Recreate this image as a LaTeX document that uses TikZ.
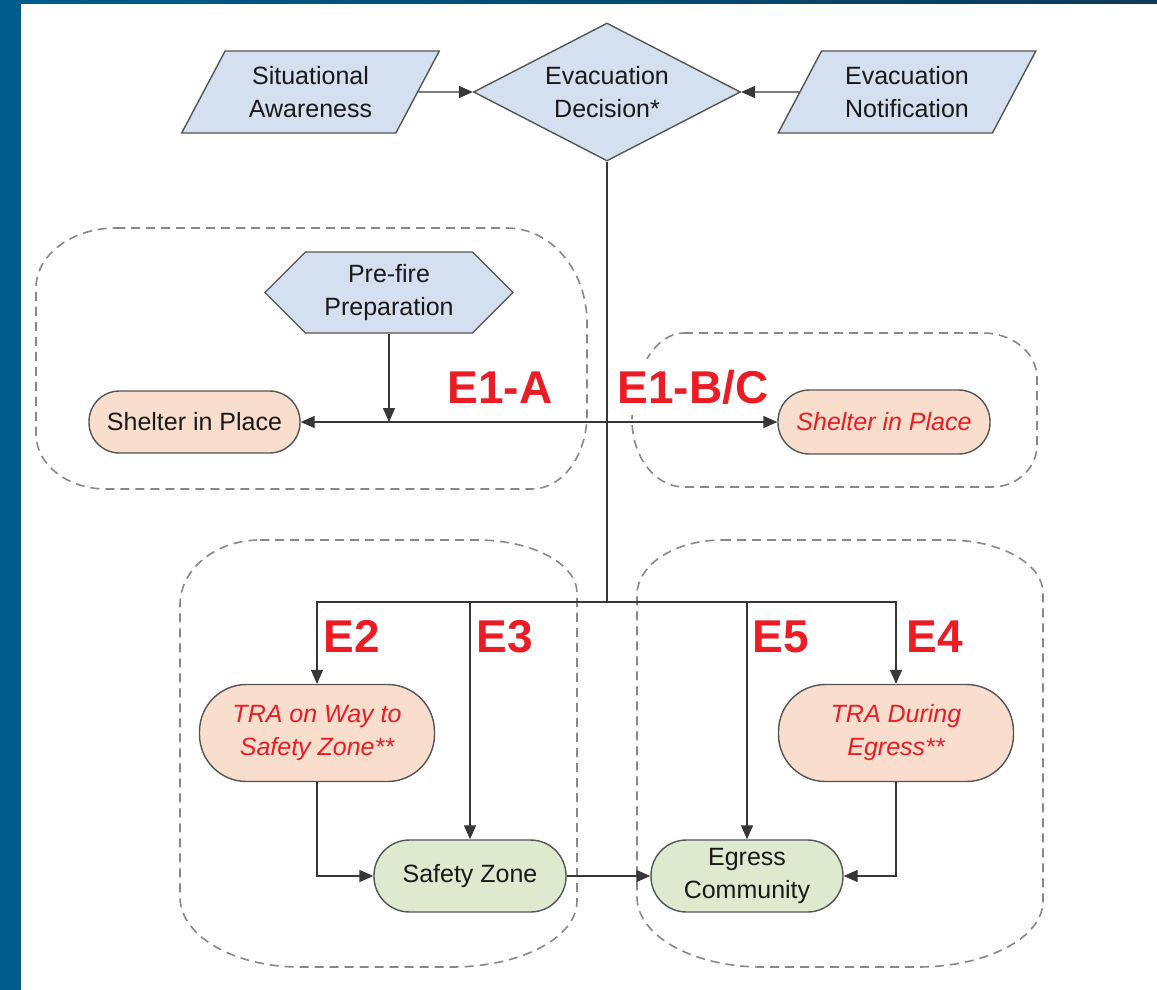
\documentclass[tikz,border=0pt]{standalone}
\usepackage{fontspec}
\setmainfont{Liberation Sans}
\usetikzlibrary{arrows.meta,shapes.geometric,shapes.symbols}

\definecolor{panelblue}{RGB}{0,92,140}
\definecolor{navy}{RGB}{12,58,92}
\definecolor{boxblue}{RGB}{212,223,239}
\definecolor{peach}{RGB}{249,222,205}
\definecolor{mint}{RGB}{222,234,207}
\definecolor{edge}{RGB}{85,85,85}
\definecolor{wire}{RGB}{55,55,55}
\definecolor{dashgray}{RGB}{140,134,134}
\definecolor{alert}{RGB}{236,28,36}
\definecolor{ink}{RGB}{25,25,25}

\begin{document}
\begin{tikzpicture}[x=1pt,y=-1pt,
  font=\fontsize{25}{33}\selectfont,
  shapeline/.style={draw=edge, line width=1.4pt},
  para/.style={shapeline, fill=boxblue, trapezium, trapezium left angle=58.6,
    trapezium right angle=121.4, trapezium stretches=true,
    minimum width=258pt, minimum height=82pt, inner sep=0pt,
    align=center, text=ink},
  pill/.style={shapeline, rectangle, rounded corners=#1, inner sep=0pt, align=center},
  plainpill/.style={fill=peach, text=ink},
  riskpill/.style={fill=peach, text=alert, font=\fontsize{25}{33}\selectfont\itshape},
  goalpill/.style={fill=mint, text=ink},
  wireline/.style={draw=wire, line width=1.4pt},
  arr/.style={wireline, -{Triangle[length=14pt,width=12pt]}},
  zone/.style={draw=dashgray, line width=1.6pt, dash pattern=on 9pt off 6pt},
  elabel/.style={fill=white, text=alert, inner xsep=3pt, inner ysep=11pt,
    font=\fontsize{46}{46}\selectfont\bfseries, anchor=base}
]
% page frame: blue strips on the left and top edges
\useasboundingbox (0,0) rectangle (1157,990);
\shade[left color=panelblue, right color=navy] (0,0) rectangle (1157,990);
\fill[white] (21,4) rectangle (1157,990);

% dashed grouping zones
\draw[zone] (116,228) -- (507,228) arc(270:360:80 and 95) -- (587,414)
  arc(0:90:55 and 75) -- (106,489) arc(90:180:70 and 55) -- (36,288)
  arc(180:270:80 and 60) -- cycle;
\draw[zone] (684,333) -- (983,333) arc(270:360:54 and 45) -- (1037,445)
  arc(0:90:45 and 42) -- (684,487) arc(90:180:52 and 67) -- (632,420)
  arc(180:270:52 and 87) -- cycle;
\draw[zone] (260,540) -- (477,540) arc(270:360:100 and 53) -- (577,901)
  arc(0:90:125 and 66) -- (300,967) arc(90:180:120 and 70) -- (180,605)
  arc(180:270:80 and 65) -- cycle;
\draw[zone] (722,540) -- (948,540) arc(270:360:95 and 53) -- (1043,901)
  arc(0:90:125 and 66) -- (762,967) arc(90:180:125 and 70) -- (637,595)
  arc(180:270:85 and 55) -- cycle;

% decision stage
\node[para] (sa) at (310.5,92) {Situational\\Awareness};
\node[para] (en) at (907,92) {Evacuation\\Notification};
\node[diamond, shapeline, fill=boxblue, aspect=1.93, minimum width=267pt,
  minimum height=138pt, inner sep=0pt, align=center, text=ink]
  (dec) at (607,92) {Evacuation\\Decision*};

% shelter branch
\node[shapeline, fill=boxblue, signal, signal to=east and west, signal pointer angle=90,
  minimum width=248pt, minimum height=81pt, inner sep=0pt, align=center, text=ink]
  (prep) at (389,292.5) {Pre-fire\\Preparation};
\node[pill=30.5pt, plainpill, minimum width=211pt, minimum height=62pt]
  (shl) at (194.5,422) {Shelter in Place};
\node[pill=31.5pt, riskpill, minimum width=212pt, minimum height=64pt]
  (shr) at (884,422) {Shelter in Place};

% egress branch
\node[pill=47pt, riskpill, minimum width=235pt, minimum height=97pt]
  (tra1) at (317,733) {TRA on Way to\\Safety Zone**};
\node[pill=47pt, riskpill, minimum width=235pt, minimum height=97pt]
  (tra2) at (896,733) {TRA During\\Egress**};
\node[pill=35.5pt, goalpill, minimum width=192pt, minimum height=72pt]
  (sz) at (470,876) {Safety Zone};
\node[pill=35.5pt, goalpill, minimum width=192pt, minimum height=72pt]
  (eg) at (747,876) {Egress\\Community};

% junction points on the trunk
\coordinate (j1) at (607,422);
\coordinate (j0) at (389,422);
\coordinate (d0) at (607,602);
\coordinate (d3) at (470,602);
\coordinate (d5) at (747,602);

% connectors
\draw[arr] (sa.east) -- (dec.west);
\draw[arr] (en.west) -- (dec.east);
\draw[wireline] (dec.south) -- (d0);
\draw[arr] (j1) -- (shl.east);
\draw[arr] (j1) -- (shr.west);
\draw[arr] (prep.south) -- (j0);
\draw[arr] (d0) -| (tra1.north);
\draw[arr] (d0) -| (tra2.north);
\draw[arr] (d3) -- (sz.north);
\draw[arr] (d5) -- (eg.north);
\draw[arr] (tra1.south) |- (sz.west);
\draw[arr] (tra2.south) |- (eg.east);
\draw[arr] (sz.east) -- (eg.west);

% scenario labels
\node[elabel] (e1a) at (500,403) {E1-A};
\node[elabel] (e1bc) at (693,403) {E1-B/C};
\node[elabel] (e2) at (352,652) {E2};
\node[elabel] (e3) at (505,652) {E3};
\node[elabel] (e5) at (781,652) {E5};
\node[elabel] (e4) at (935,652) {E4};
\end{tikzpicture}
\end{document}
